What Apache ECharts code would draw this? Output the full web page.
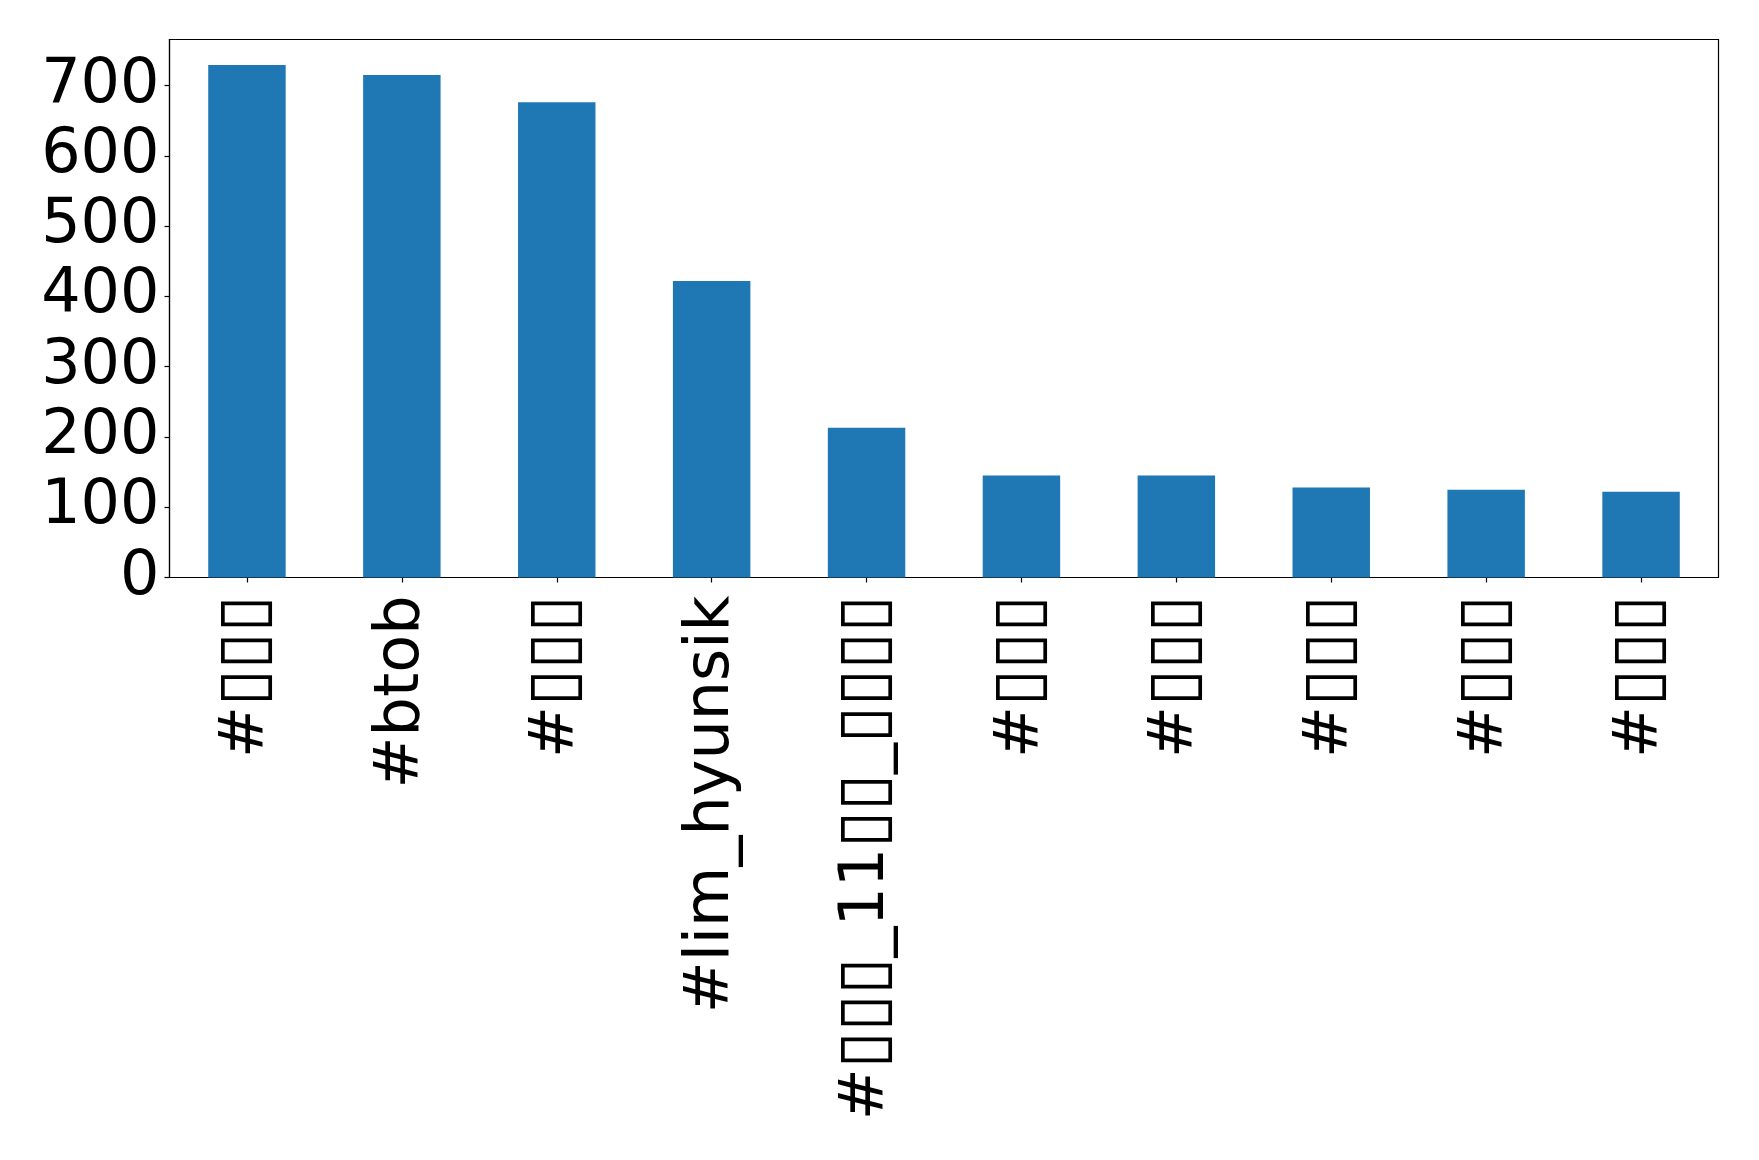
<!DOCTYPE html>
<html>
<head>
<meta charset="utf-8">
<script src="https://cdn.jsdelivr.net/npm/echarts@6/dist/echarts.min.js"></script>
<style>
html,body{margin:0;padding:0;background:#fff;}
#chart{width:1759px;height:1160px;}
</style>
</head>
<body>
<div id="chart"></div>
<script>
const categories = ['#▯▯▯', '#btob', '#▯▯▯', '#lim_hyunsik', '#▯▯▯_11▯▯_▯▯▯▯', '#▯▯▯', '#▯▯▯', '#▯▯▯', '#▯▯▯', '#▯▯▯'];
const counts = [729, 715, 676, 422, 213, 145, 145, 128, 125, 122];
const yTicks = [0, 100, 200, 300, 400, 500, 600, 700];

const chart = echarts.init(document.getElementById('chart'), null, {renderer: 'canvas'});
const font = 'DejaVu Sans';
chart.setOption({
  animation: false,
  backgroundColor: '#ffffff',
  grid: {
    left: 169.5, right: 40.5, top: 39.5, bottom: 582.5,
    containLabel: false,
    outerBoundsMode: 'none',
    show: true, borderColor: '#000', borderWidth: 1.2, backgroundColor: 'transparent'
  },
  xAxis: {
    type: 'category',
    data: categories,
    boundaryGap: true,
    axisLine: {show: true, lineStyle: {color: '#000', width: 1.2}},
    axisTick: {show: true, alignWithLabel: true, length: 5, lineStyle: {color: '#000', width: 1.2}},
    axisLabel: {
      rotate: 90, interval: 0, margin: 18, color: '#000', fontFamily: font, fontSize: 62, hideOverlap: false,
      formatter: v => v.replace(/▯/g, '{b|▯}'),
      rich: {b: {fontFamily: font, fontSize: 67, color: '#000'}}
    }
  },
  yAxis: {
    type: 'value',
    min: 0,
    max: counts[0] * 1.05,
    interval: 100,
    splitLine: {show: false},
    axisLine: {show: true, lineStyle: {color: '#000', width: 1.2}},
    axisTick: {show: true, length: 5, lineStyle: {color: '#000', width: 1.2}},
    axisLabel: {
      margin: 10, color: '#000', fontFamily: font, fontSize: 62, showMaxLabel: false, showMinLabel: true, hideOverlap: false,
      formatter: v => (yTicks.indexOf(v) >= 0 ? String(v) : '')
    }
  },
  series: [{
    type: 'bar',
    data: counts,
    barWidth: '50%',
    itemStyle: {color: '#1f77b4'}
  }]
});
</script>
</body>
</html>
